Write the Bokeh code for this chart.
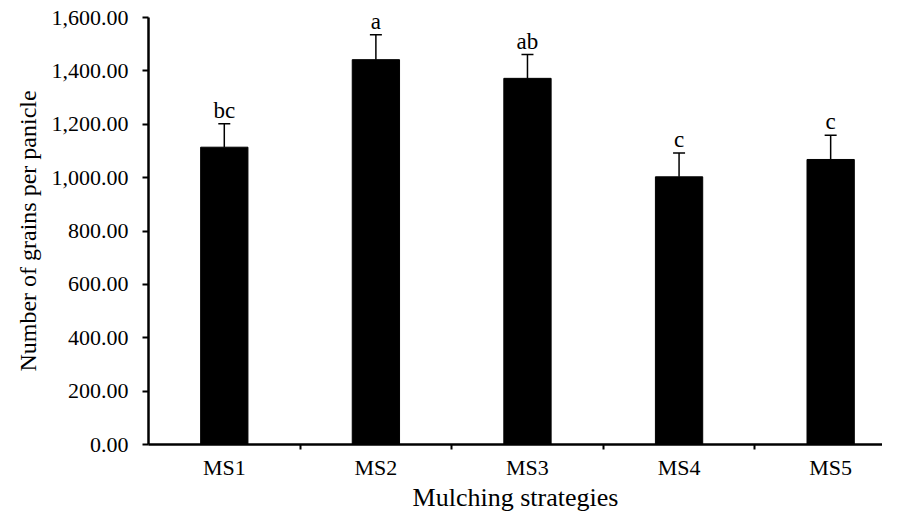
from bokeh.plotting import figure
from bokeh.models import Range1d, FixedTicker, NumeralTickFormatter, ColumnDataSource, Whisker, TeeHead, LabelSet
from bokeh.embed import file_html
from bokeh.resources import INLINE

# ---- data ----
categories = ["MS1", "MS2", "MS3", "MS4", "MS5"]
means = [1114, 1442, 1372, 1003, 1068]
errors = [88, 93, 89, 89, 91]
letters = ["bc", "a", "ab", "c", "c"]
y_ticks = [0, 200, 400, 600, 800, 1000, 1200, 1400, 1600]

positions = list(range(1, len(categories) + 1))
uppers = [m + e for m, e in zip(means, errors)]

src = ColumnDataSource(dict(x=positions, top=means, upper=uppers, lab=letters))

FONT = "Liberation Serif"

p = figure(width=882, height=514, output_backend="svg", toolbar_location=None,
           x_range=Range1d(0.5, 5.342), y_range=Range1d(0, 1600),
           min_border_left=148, min_border_top=17, min_border_right=0, min_border_bottom=40)

p.vbar(x="x", top="top", width=0.312, bottom=0, source=src,
       fill_color="black", line_color="black")

wh = Whisker(base="x", upper="upper", lower="top", source=src,
             line_color="black", line_width=1.5,
             upper_head=TeeHead(size=12, line_color="black", line_width=1.5),
             lower_head=None)
p.add_layout(wh)

labels = LabelSet(x="x", y="upper", text="lab", source=src, text_align="center",
                  text_baseline="alphabetic", y_offset=6, text_font=FONT,
                  text_font_size="23px", text_color="black")
p.add_layout(labels)

# axes
p.xgrid.visible = False
p.ygrid.visible = False
p.outline_line_color = None

xa = p.xaxis[0]
xa.ticker = FixedTicker(ticks=positions, minor_ticks=[1.5, 2.5, 3.5, 4.5])
xa.major_label_overrides = {pos: c for pos, c in zip(positions, categories)}
xa.major_tick_out = 0
xa.major_tick_in = 0
xa.minor_tick_out = 5
xa.minor_tick_in = 0
xa.minor_tick_line_width = 2
xa.minor_tick_line_color = "black"
xa.axis_line_width = 2.5
xa.axis_line_color = "black"
xa.major_label_text_font = FONT
xa.major_label_text_font_size = "22px"
xa.major_label_text_color = "black"
xa.major_label_standoff = 5
xa.axis_label = "Mulching strategies"
xa.axis_label_text_font = FONT
xa.axis_label_text_font_size = "26px"
xa.axis_label_text_font_style = "normal"
xa.axis_label_text_color = "black"
xa.axis_label_standoff = 0

ya = p.yaxis[0]
ya.ticker = FixedTicker(ticks=y_ticks)
ya.formatter = NumeralTickFormatter(format="0,0.00")
ya.major_tick_out = 6
ya.major_tick_in = 0
ya.major_tick_line_width = 2
ya.major_tick_line_color = "black"
ya.minor_tick_out = 0
ya.minor_tick_in = 0
ya.axis_line_width = 2.5
ya.axis_line_color = "black"
ya.major_label_text_font = FONT
ya.major_label_text_font_size = "22px"
ya.major_label_text_color = "black"
ya.major_label_standoff = 14
ya.axis_label = "Number of grains per panicle"
ya.axis_label_text_font = FONT
ya.axis_label_text_font_size = "24px"
ya.axis_label_text_font_style = "normal"
ya.axis_label_text_color = "black"
ya.axis_label_standoff = 8

open("out.html", "w").write(file_html(p, INLINE))
